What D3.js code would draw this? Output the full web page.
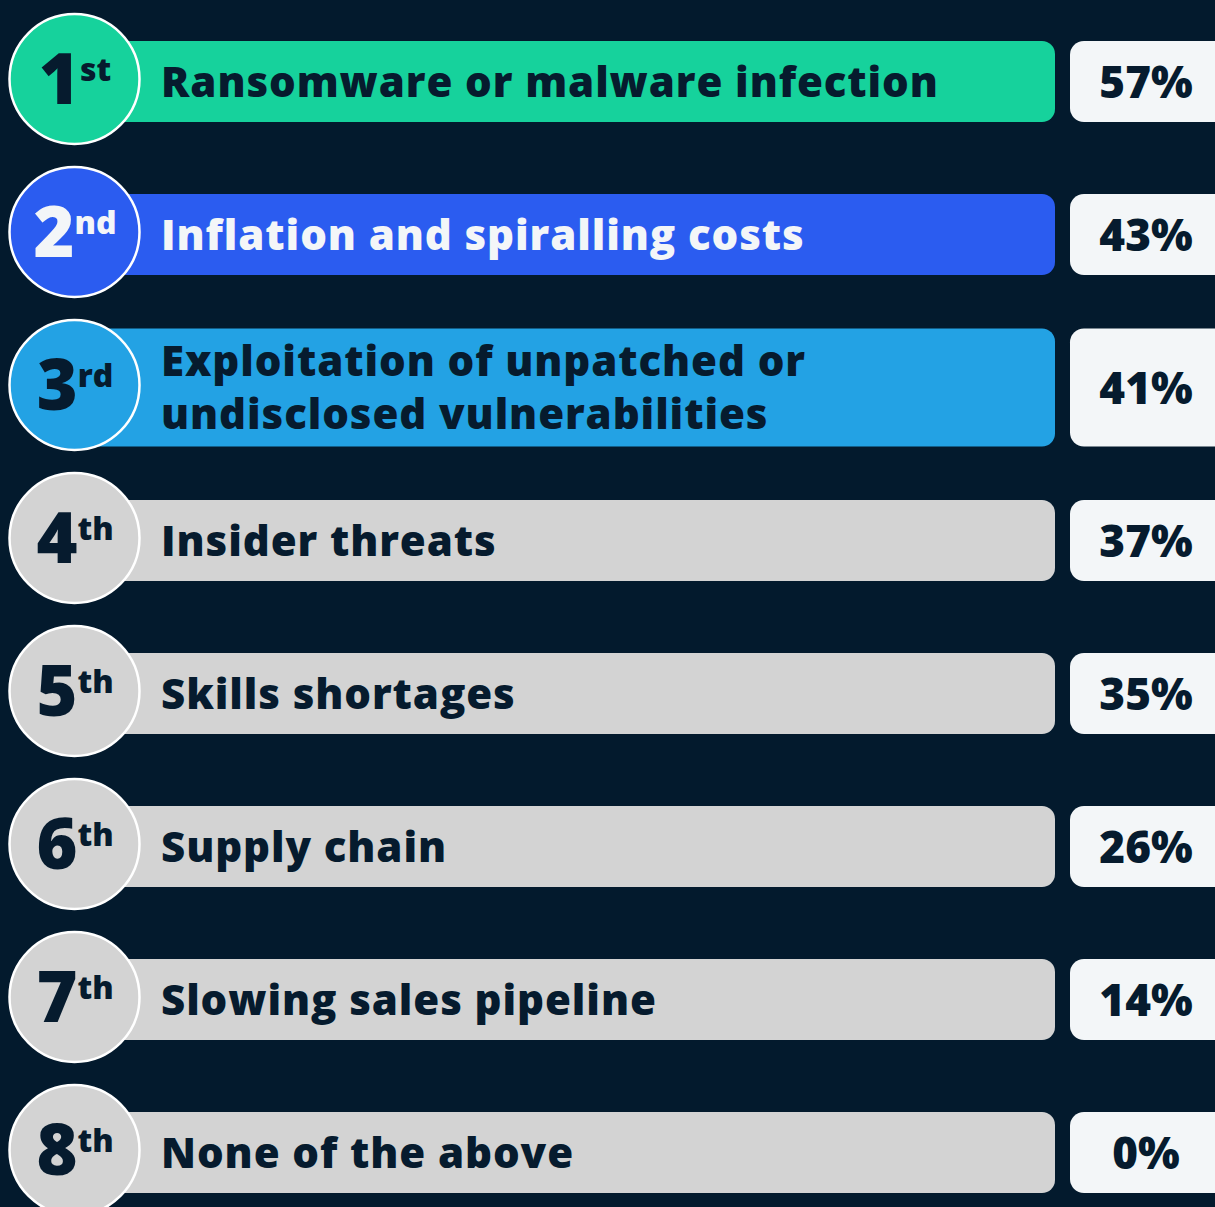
<!DOCTYPE html>
<html>
<head>
<meta charset="utf-8">
<script src="https://cdn.jsdelivr.net/npm/d3@7"></script>
<style>
  html, body { margin: 0; padding: 0; background: #031a2d; }
  svg { display: block; }
  text { font-family: "Open Sans", "Noto Sans", sans-serif; font-weight: 800; }
</style>
</head>
<body>
<div id="chart"></div>
<script>
var ranks = ["1", "2", "3", "4", "5", "6", "7", "8"];
var suffixes = ["st", "nd", "rd", "th", "th", "th", "th", "th"];
var labels = [
  ["Ransomware or malware infection"],
  ["Inflation and spiralling costs"],
  ["Exploitation of unpatched or", "undisclosed vulnerabilities"],
  ["Insider threats"],
  ["Skills shortages"],
  ["Supply chain"],
  ["Slowing sales pipeline"],
  ["None of the above"]
];
var values = [57, 43, 41, 37, 35, 26, 14, 0];

var width = 1215, height = 1207;
var dark = "#031a2d", ink = "#061b2e", light = "#f3f6f8";

var rows = ranks.map(function(r, i) {
  return { rank: r, suffix: suffixes[i], label: labels[i], value: values[i], i: i };
});

var fill = d3.scaleOrdinal()
  .domain(ranks)
  .range(["#16d29c", "#2b5cf0", "#23a2e4", "#d3d3d3", "#d3d3d3", "#d3d3d3", "#d3d3d3", "#d3d3d3"]);

var textColor = function(d) { return d.rank === "2" ? light : ink; };

// rows are evenly spaced, bars are not scaled by value
var y = d3.scaleBand()
  .domain(ranks)
  .range([5, 5 + 153 * ranks.length]);

var barX0 = 74, barX1 = 1055, pillX0 = 1070, pillX1 = 1230;
var barH = function(d) { return d.label.length > 1 ? 118 : 81; };
var cy = function(d) { return y(d.rank) + y.bandwidth() / 2; };

var svg = d3.select("#chart").append("svg")
  .attr("width", width)
  .attr("height", height);

svg.append("rect").attr("width", width).attr("height", height).attr("fill", dark);

var row = svg.selectAll("g.row")
  .data(rows)
  .enter().append("g")
  .attr("class", "row");

// main bar
row.append("rect")
  .attr("x", barX0)
  .attr("y", function(d) { return cy(d) - barH(d) / 2; })
  .attr("width", barX1 - barX0)
  .attr("height", barH)
  .attr("rx", 13)
  .attr("fill", function(d) { return fill(d.rank); });

// value pill
row.append("rect")
  .attr("x", pillX0)
  .attr("y", function(d) { return cy(d) - barH(d) / 2; })
  .attr("width", pillX1 - pillX0)
  .attr("height", barH)
  .attr("rx", 14)
  .attr("fill", light);

row.append("text")
  .attr("x", 1146)
  .attr("y", function(d) { return cy(d) + 16; })
  .attr("text-anchor", "middle")
  .style("font-size", "44px")
  .attr("fill", ink)
  .text(function(d) { return d.value + "%"; });

// labels
var lab = row.append("text")
  .attr("x", 161)
  .attr("y", function(d) { return cy(d) + 15 - (d.label.length - 1) * 26.5; })
  .style("font-size", "42px")
  .style("letter-spacing", "0.9px")
  .attr("fill", textColor);

lab.selectAll("tspan")
  .data(function(d) { return d.label; })
  .enter().append("tspan")
  .attr("x", 161)
  .attr("dy", function(t, j) { return j === 0 ? 0 : 53; })
  .text(function(t) { return t; });

// rank circle
row.append("circle")
  .attr("cx", 74.5)
  .attr("cy", function(d) { return cy(d) - 2.5; })
  .attr("r", 65)
  .attr("fill", function(d) { return fill(d.rank); })
  .attr("stroke", "#ffffff")
  .attr("stroke-width", 2.5);

var rk = row.append("text")
  .attr("x", 75)
  .attr("y", function(d) { return cy(d) + 22; })
  .attr("text-anchor", "middle")
  .attr("fill", textColor);

rk.append("tspan")
  .style("font-size", "70px")
  .style("letter-spacing", "-2px")
  .text(function(d) { return d.rank; });

rk.append("tspan")
  .attr("dx", 2)
  .attr("dy", -23)
  .style("font-size", "32px")
  .text(function(d) { return d.suffix; });
</script>
</body>
</html>
